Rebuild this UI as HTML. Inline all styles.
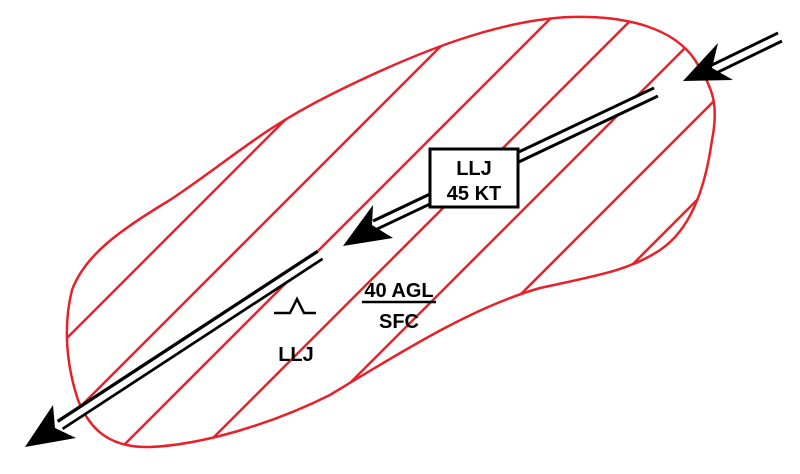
<!DOCTYPE html>
<html><head><style>html,body{margin:0;padding:0;background:#fff;overflow:hidden;width:800px;height:474px}svg{display:block}</style></head>
<body>
<svg width="800" height="474" viewBox="0 0 800 474" xmlns="http://www.w3.org/2000/svg">
<defs>
<clipPath id="c"><path d="M570,17 C630,15 675,30 695,60 C710,85 720,100 712,140 C705,190 690,230 660,250 C630,270 600,275 540,288 C480,305 420,340 330,395 C270,425 200,445 150,447 C110,448 90,430 78,400 C68,370 62,330 72,290 C85,255 120,230 170,200 C230,160 260,130 330,95 C420,50 500,20 570,17 Z"/></clipPath>
</defs>
<g clip-path="url(#c)" stroke="#e8202a" stroke-width="2.5">
<line x1="0" y1="159" x2="159" y2="0"/>
<line x1="0" y1="241" x2="241" y2="0"/>
<line x1="0" y1="323" x2="323" y2="0"/>
<line x1="0" y1="405" x2="405" y2="0"/>
<line x1="0" y1="487" x2="487" y2="0"/>
<line x1="0" y1="569" x2="569" y2="0"/>
<line x1="0" y1="651" x2="651" y2="0"/>
<line x1="0" y1="733" x2="733" y2="0"/>
<line x1="0" y1="815" x2="815" y2="0"/>
<line x1="0" y1="897" x2="897" y2="0"/>
<line x1="0" y1="979" x2="979" y2="0"/>
<line x1="0" y1="1061" x2="1061" y2="0"/>
</g>
<path d="M570,17 C630,15 675,30 695,60 C710,85 720,100 712,140 C705,190 690,230 660,250 C630,270 600,275 540,288 C480,305 420,340 330,395 C270,425 200,445 150,447 C110,448 90,430 78,400 C68,370 62,330 72,290 C85,255 120,230 170,200 C230,160 260,130 330,95 C420,50 500,20 570,17 Z" fill="none" stroke="#e8202a" stroke-width="2.5"/>
<g stroke-linecap="butt">
<line x1="780" y1="37" x2="712" y2="70" stroke="#000" stroke-width="12"/>
<line x1="782" y1="36" x2="708" y2="72" stroke="#fff" stroke-width="6"/>
<line x1="656" y1="92" x2="375" y2="225" stroke="#000" stroke-width="12"/>
<line x1="658" y1="91" x2="371" y2="227" stroke="#fff" stroke-width="6"/>
<line x1="320" y1="255" x2="60" y2="425" stroke="#000" stroke-width="12"/>
<line x1="322" y1="254" x2="56" y2="428" stroke="#fff" stroke-width="6"/>
</g>
<path d="M683,81 L718,43 L712,68 L733,80 Z" fill="#000"/>
<path d="M343,246 L373,205 L372,225 L393,238 Z" fill="#000"/>
<path d="M25,447 L53,405 L55,428 L76,438 Z" fill="#000"/>
<rect x="430" y="149" width="88" height="58" fill="#fff" stroke="#000" stroke-width="3"/>
<g font-family="Liberation Sans, sans-serif" font-weight="bold" font-size="20" text-anchor="middle" fill="#000">
<text x="474" y="175">LLJ</text>
<text x="474" y="200">45 KT</text>
<text x="399" y="297">40 AGL</text>
<text x="399" y="328">SFC</text>
<text x="296" y="361">LLJ</text>
</g>
<line x1="362" y1="302" x2="436" y2="302" stroke="#000" stroke-width="2.5"/>
<path d="M274,313 L290,313 L297,299 L304,313 L316,313" fill="none" stroke="#000" stroke-width="2.5"/>
</svg>
</body></html>
